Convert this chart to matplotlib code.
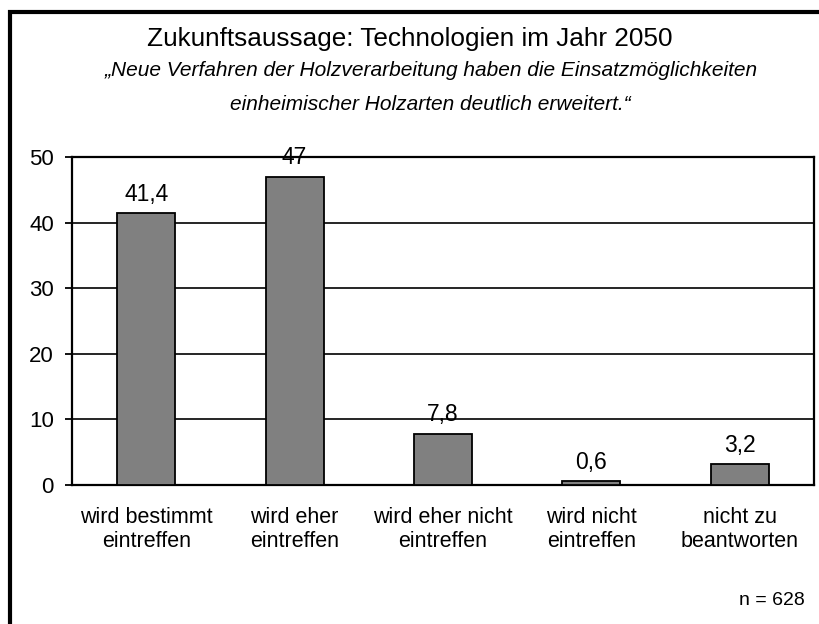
import matplotlib.pyplot as plt
from matplotlib.patches import Rectangle

plt.rcParams['font.family'] = ['Liberation Sans', 'DejaVu Sans']

categories = ["wird bestimmt\neintreffen", "wird eher\neintreffen",
              "wird eher nicht\neintreffen", "wird nicht\neintreffen",
              "nicht zu\nbeantworten"]
values = [41.4, 47, 7.8, 0.6, 3.2]
value_labels = ["41,4", "47", "7,8", "0,6", "3,2"]
yticks = [0, 10, 20, 30, 40, 50]

W, H = 820, 624
fig = plt.figure(figsize=(W / 100, H / 100), dpi=100)

# outer frame (right and bottom edges lie outside the picture)
fig.patches.append(Rectangle((10 / W, -0.1), 1.2, 1 - 12 / H + 0.1,
                             transform=fig.transFigure, fill=False,
                             edgecolor='black', linewidth=3))

fig.text(410 / W, 1 - 46 / H, "Zukunftsaussage: Technologien im Jahr 2050",
         ha='center', va='baseline', fontsize=18.8)
fig.text(431 / W, 1 - 76 / H,
         "\u201eNeue Verfahren der Holzverarbeitung haben die Einsatzm\u00f6glichkeiten",
         ha='center', va='baseline', fontsize=15, style='italic')
fig.text(430 / W, 1 - 110 / H,
         "einheimischer Holzarten deutlich erweitert.\u201c",
         ha='center', va='baseline', fontsize=15, style='italic')

ax = fig.add_axes([72 / W, 1 - 485 / H, (814 - 72) / W, (485 - 157) / H])
x = range(len(values))
ax.bar(x, values, width=0.39, color='#808080', edgecolor='black',
       linewidth=1.3, zorder=3)
for xi, v, lab in zip(x, values, value_labels):
    ax.annotate(lab, (xi, v), xytext=(0, 9), textcoords='offset points',
                ha='center', va='baseline', fontsize=16.5, zorder=4)

ax.set_xlim(-0.5, len(values) - 0.5)
ax.set_ylim(0, 50)
ax.set_yticks(yticks)
ax.set_yticklabels([str(t) for t in yticks], fontsize=16)
ax.tick_params(axis='y', length=5, width=1.3, pad=8)
ax.set_xticks(list(x))
ax.set_xticklabels(categories, fontsize=15.5, linespacing=1.2)
ax.tick_params(axis='x', length=0, pad=16)
ax.yaxis.grid(True, color='black', linewidth=1.2, zorder=1)
ax.set_axisbelow(True)
for s in ax.spines.values():
    s.set_linewidth(1.6)

fig.text(805 / W, 1 - 605 / H, "n = 628", ha='right', va='baseline',
         fontsize=14)

fig.savefig("out.png", dpi=100)
